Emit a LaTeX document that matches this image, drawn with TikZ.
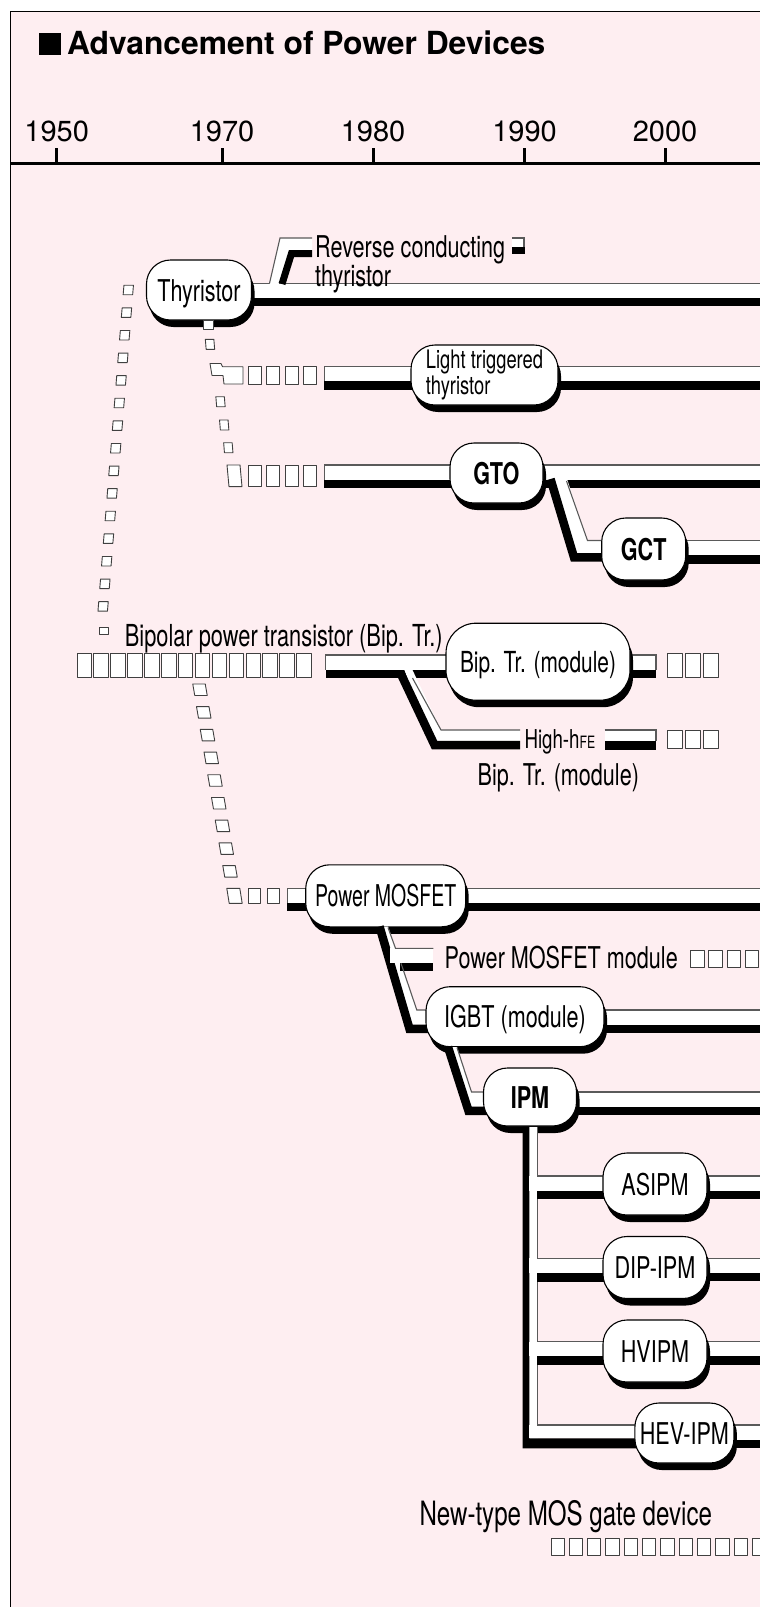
\documentclass[tikz,border=0pt]{standalone}
\usepackage{fontspec}
\setmainfont{TeX Gyre Heros}
\newfontfamily\narrowfont{TeX Gyre Heros}[FakeStretch=0.72]
\newfontfamily\narrowerfont{TeX Gyre Heros}[FakeStretch=0.65]
\usetikzlibrary{shadows}
\definecolor{blush}{HTML}{FEEEF1}
\definecolor{rimgray}{HTML}{5A5A5A}
\definecolor{boxgray}{HTML}{404040}

\newcommand{\lbl}{\narrowfont\fontsize{30}{30}\selectfont}
% ribbon: x start, x end, top y (open right end)
\newcommand{\ribbon}[3]{%
  \fill[black] (#1,#3+14.5) rectangle (#2,#3+23);
  \fill[white] (#1,#3) rectangle (#2,#3+14.5);
  \draw[rim] (#2,#3) -- (#1,#3) -- (#1,#3+14.5);}
% ribbon closed at both ends
\newcommand{\ribbonend}[3]{%
  \fill[black] (#1,#3+14.5) rectangle (#2,#3+23);
  \fill[white] (#1,#3) rectangle (#2,#3+14.5);
  \draw[rim] (#1,#3+14.5) -- (#1,#3) -- (#2,#3) -- (#2,#3+14.5);}
% chain box: centre x, centre y, width, height, skew
\newcommand{\chainbox}[5]{%
  \draw[tofu] ({#1-#3/2-(#5)},{#2-#4/2}) -- ({#1+#3/2-(#5)},{#2-#4/2})
    -- ({#1+#3/2+(#5)},{#2+#4/2}) -- ({#1-#3/2+(#5)},{#2+#4/2}) -- cycle;}

\begin{document}
\begin{tikzpicture}[x=1pt, y=-1pt,
  rim/.style={rimgray, line width=1.1pt},
  tofu/.style={draw=boxgray, fill=white, line width=0.9pt, line join=round},
  pill/.style={draw=black, line width=1.1pt, fill=white, rounded corners=24pt,
    inner sep=0pt, font=\lbl,
    drop shadow={shadow xshift=3pt, shadow yshift=-7pt, opacity=1, fill=black}},
  pilltext/.style={pill, text height=22pt, text depth=0pt},
  tag/.style={font=\lbl, inner sep=0pt, anchor=base west}]

\useasboundingbox (0,0) rectangle (760,1607);
\clip (0,0) rectangle (760,1607);
\fill[white] (0,0) rectangle (760,1607);

% Frame
\fill[blush] (10.7,11.5) rectangle (770,1620);
\draw[line width=1.5pt] (10.7,1620) -- (10.7,11.5) -- (770,11.5);

% Title
\fill (39,33) rectangle (61,55);
\node[anchor=base west, inner sep=0pt, font=\bfseries\fontsize{31.8}{31.8}\selectfont]
  (title) at (67,54) {Advancement of Power Devices};

% --- Time axis ---
\draw[line width=3pt] (10.7,163) -- (770,163);
\foreach \yx/\yl in {56.7/1950, 222/1970, 373/1980, 524.5/1990, 665/2000}{
  \draw[line width=3pt] (\yx,148) -- (\yx,163);
  \node[anchor=base, inner sep=0pt, font=\fontsize{29}{29}\selectfont]
    (y\yl) at (\yx,141.7) {\yl};
}

% --- Box chains ---
\foreach \k in {0,...,14}{\chainbox{128.3-1.8*\k}{290+22.6*\k}{9.5}{9.5}{-0.4}}
\chainbox{104}{631}{8.5}{7}{0}
% thyristor -> light triggered / GTO
\chainbox{210}{344.3}{8.5}{10}{0.4}
\draw[tofu] (210,363.5) -- (221,363.5) -- (222.5,366.7) -- (243,366.7)
  -- (243,384) -- (224,384) -- (223,375.5) -- (212,375.5) -- cycle;
\chainbox{220.5}{401.7}{8.5}{10}{0.4}
\chainbox{224.2}{425}{8.5}{10}{0.4}
\chainbox{228.3}{447.7}{8.5}{10}{0.4}
\chainbox{234.5}{475.8}{13}{21.7}{1}
\foreach \bx in {248.4,266.9,285.4,303.9}{
  \draw[tofu] (\bx,366.7) rectangle ++(13,17.3);
  \draw[tofu] (\bx,465) rectangle ++(13,21.7);
}
% bipolar rows
\foreach \k in {0,...,13}{\draw[tofu] (77+16.9*\k,653.3) rectangle ++(14.5,24);}
\foreach \k in {0,1,2}{
  \draw[tofu] (667+18*\k,653.3) rectangle ++(15.6,24);
  \draw[tofu] (667+18*\k,730.5) rectangle ++(15.6,18);
}
% bipolar -> power MOSFET
\foreach \k in {0,...,8}{\chainbox{200+3.75*\k}{689.7+22.7*\k}{12.5}{11.5}{1}}
\chainbox{234.5}{895.8}{13}{15}{1.2}
\draw[tofu] (248.3,888.3) rectangle ++(12.3,15);
\draw[tofu] (267,888.3) rectangle ++(12.3,15);
\foreach \k in {0,...,3}{\draw[tofu] (690.5+18.3*\k,950.5) rectangle ++(13.5,17);}
\foreach \k in {0,...,11}{\draw[tofu] (551+18.3*\k,1538.3) rectangle ++(13.3,16.7);}

% --- Thyristor family ---
\ribbon{149}{770}{283.3}
% reverse conducting branch
\fill[white] (269.5,285) -- (280,238) -- (312,238) -- (312,250) -- (289,250) -- (278.5,285) -- cycle;
\draw[line width=7pt] (282,284) -- (291.5,253.5) -- (312,253.5);
\draw[rim] (269.5,283.3) -- (280,238) -- (312,238);
\fill[white] (512,238) rectangle (524,247);
\fill (512,247) rectangle (525,253.5);
\draw[rim] (512,238) -- (524,238) -- (524,247);
\ribbon{324.3}{770}{366.7}
\ribbon{324.3}{770}{465}

\node[pilltext, minimum width=105pt, minimum height=60pt] (thy) at (199,290) {Thyristor};
\draw[tofu] (203.5,320) rectangle (213.5,329);
\node[pill, minimum width=147pt, minimum height=60pt, align=left,
  font=\narrowfont\fontsize{25.5}{26.7}\selectfont] (lt) at (484.5,375) {Light triggered\\thyristor};
\node[pilltext, minimum width=93pt, minimum height=60pt, font=\lbl\bfseries] (gto) at (496.5,473) {GTO};

% GCT branch
\fill[white] (553,479) -- (567,479) -- (587.5,540.5) -- (615,540.5) -- (615,553) -- (572,553) -- cycle;
\draw[line width=8.5pt] (550.5,479) -- (574,557.3) -- (615,557.3);
\draw[rim] (566.5,481) -- (587.5,540.5) -- (615,540.5);
\ribbon{615}{770}{540.5}
\node[pilltext, minimum width=84pt, minimum height=62pt, font=\lbl\bfseries] (gct) at (643.7,549) {GCT};

% --- Bipolar family ---
\ribbonend{325.6}{656}{655}
\fill[white] (404,669) -- (412,669) -- (441,730) -- (520,730) -- (520,741) -- (431,741) -- cycle;
\draw[line width=8.5pt] (400,672) -- (434.5,745) -- (520,745);
\draw[rim] (412.5,678) -- (441,730) -- (520,730);
\fill[white] (604.6,730) rectangle (656,741);
\fill (604.6,741) rectangle (656,749.5);
\draw[rim] (604.6,730) -- (656,730) -- (656,741);
\node[pilltext, minimum width=184pt, minimum height=77pt, rounded corners=30pt,
  font=\narrowfont\fontsize{29}{29}\selectfont] (bipm) at (538,661.7) {Bip. Tr. (module)};

% --- MOS gate family ---
\ribbon{287.3}{770}{888.3}
\node[pilltext, minimum width=160pt, minimum height=62pt,
  font=\narrowerfont\fontsize{30}{30}\selectfont] (mos) at (385.7,895.8) {Power MOSFET};
% to module and IGBT
\fill[white] (380,926.5) -- (388,926.5) -- (416.8,1010) -- (440,1010) -- (440,1024.5) -- (407,1024.5) -- cycle;
\draw[line width=8.5pt] (379.5,926.5) -- (409.5,1028.8) -- (440,1028.8);
\fill[white] (390,948.3) rectangle (433.4,963.3);
\fill (399.5,963.3) rectangle (433.4,970.5);
\draw[rim] (388,927.5) -- (395.5,948.3) -- (433.4,948.3);
\draw[rim] (401,963.3) -- (416.8,1010) -- (440,1010);
\ribbon{560}{770}{1010}
\node[pilltext, minimum width=178pt, minimum height=60pt] (igbt) at (515,1016.7) {IGBT (module)};
% to IPM
\fill[white] (449,1047) -- (457,1047) -- (471.5,1092) -- (495,1092) -- (495,1106.5) -- (466,1106.5) -- cycle;
\draw[line width=8.5pt] (448,1047) -- (468.5,1110.8) -- (495,1110.8);
\draw[rim] (457,1047.5) -- (471.5,1092) -- (495,1092);
\ribbon{540}{770}{1092}
\foreach \t in {1176,1258.3,1341.7}{\ribbon{660}{770}{\t}}
\ribbon{690}{770}{1425}
\node[pilltext, minimum width=93pt, minimum height=58pt, font=\lbl\bfseries] (ipm) at (530,1097) {IPM};

% IPM spine
\fill[white] (525,1126.5) rectangle (538,1440);
\fill (522.7,1126.5) -- (522.7,1448.3) -- (640,1448.3) -- (640,1438.3) -- (529.3,1438.3) -- (529.3,1126.5) -- cycle;
\foreach \t in {1176,1258.3,1341.7}{
  \fill[white] (529.3,\t) rectangle (620,\t+14.7);
  \fill (537.3,\t+14.7) rectangle (620,\t+23.3);
  \draw[rim] (537.3,\t) -- (620,\t);
}
\fill[white] (529.3,1425) rectangle (650,1438.3);
\draw[rim] (537.3,1127) -- (537.3,1176);
\draw[rim] (537.3,1199.3) -- (537.3,1258.3);
\draw[rim] (537.3,1281.6) -- (537.3,1341.7);
\draw[rim] (537.3,1365) -- (537.3,1425) -- (650,1425);

\foreach \nm/\py/\tx in {asipm/1184/ASIPM, dipipm/1267.5/DIP-IPM, hvipm/1351/HVIPM}{
  \node[pilltext, minimum width=104pt, minimum height=62pt] (\nm) at (655,\py) {\tx};
}
\node[pilltext, minimum width=99pt, minimum height=60pt] (hevipm) at (684.4,1433) {HEV-IPM};

% --- Free labels ---
\node[tag, anchor=north west, align=left, font=\narrowfont\fontsize{30}{21.6}\selectfont]
  (revcond) at (315,235.5) {Reverse conducting\\thyristor};
\node[tag, font=\narrowfont\fontsize{30.3}{30.3}\selectfont] (bipname) at (124.7,646.7)
  {Bipolar power transistor (Bip. Tr.)};
\node[tag, font=\narrowfont\fontsize{26}{26}\selectfont] (highfe) at (524.3,748)
  {High-h{\fontsize{17}{17}\selectfont FE}};
\node[tag] (bipmod) at (477.4,785) {Bip. Tr. (module)};
\node[tag] (mosmod) at (444.5,968.3) {Power MOSFET module};
\node[tag, font=\narrowfont\fontsize{33.5}{33.5}\selectfont] (newmos) at (419.3,1525) {New-type MOS gate device};

\end{tikzpicture}
\end{document}
